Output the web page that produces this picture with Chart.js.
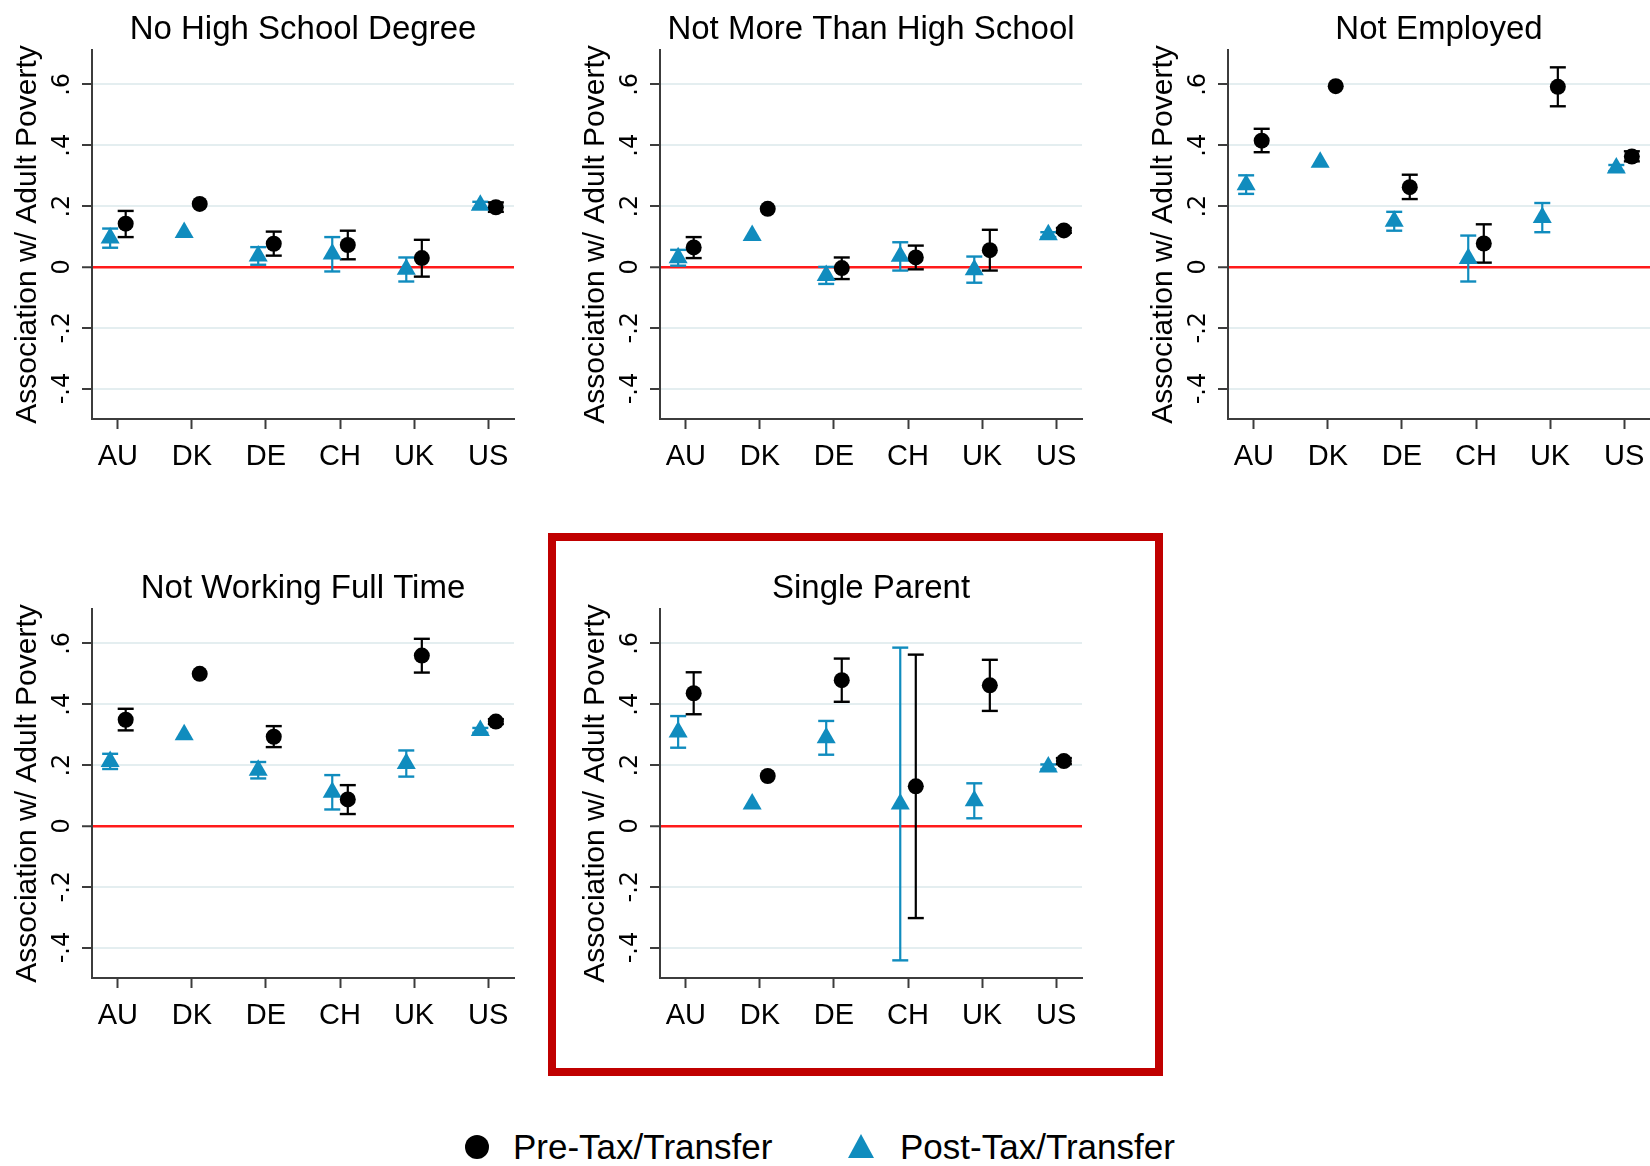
<!DOCTYPE html>
<html>
<head>
<meta charset="utf-8">
<title>Association with Adult Poverty</title>
<script src="https://cdn.jsdelivr.net/npm/chart.js@4.4.1/dist/chart.umd.min.js"></script>
<style>
  html, body { margin: 0; padding: 0; background: #fff; }
  body { width: 1650px; height: 1166px; overflow: hidden; position: relative; font-family: "Liberation Sans", Arial, sans-serif; }
  .panel { position: absolute; width: 568px; height: 500px; }
  .frame { position: absolute; left: 548px; top: 533px; width: 615px; height: 543px; box-sizing: border-box; border: 8px solid #c00000; }
  .lg-circle { position: absolute; left: 465px; top: 1135px; width: 24px; height: 24px; border-radius: 50%; background: #000; }
  .lg-triangle { position: absolute; left: 848px; top: 1134px; width: 0; height: 0;
                 border-left: 13.5px solid transparent; border-right: 13.5px solid transparent; border-bottom: 24px solid #108cbe; }
  .lg-text { position: absolute; font-size: 35px; line-height: 35px; color: #000; white-space: nowrap; top: 1129px; }
</style>
</head>
<body>
<div class="frame"></div>
<div class="panel" style="left:0px;top:0px"><canvas id="p0" width="568" height="500"></canvas></div>
<div class="panel" style="left:568px;top:0px"><canvas id="p1" width="568" height="500"></canvas></div>
<div class="panel" style="left:1136px;top:0px"><canvas id="p2" width="568" height="500"></canvas></div>
<div class="panel" style="left:0px;top:559px"><canvas id="p3" width="568" height="500"></canvas></div>
<div class="panel" style="left:568px;top:559px"><canvas id="p4" width="568" height="500"></canvas></div>
<div class="lg-circle"></div>
<div class="lg-text" id="lg0" style="left:513px"></div>
<div class="lg-triangle"></div>
<div class="lg-text" id="lg1" style="left:900px"></div>
<script>
// Countries on the x axis
const countries = ['AU', 'DK', 'DE', 'CH', 'UK', 'US'];

// Y axis ticks and their labels
const yTickValues = [-0.4, -0.2, 0, 0.2, 0.4, 0.6];
const yTickLabels = ['-.4', '-.2', '0', '.2', '.4', '.6'];
const yTitle = 'Association w/ Adult Poverty';
const seriesNames = ['Pre-Tax/Transfer', 'Post-Tax/Transfer'];

const panelTitles = ['No High School Degree', 'Not More Than High School', 'Not Employed',
                     'Not Working Full Time', 'Single Parent'];

// Point estimates and 95% intervals (null = interval hidden behind the marker)
// No High School Degree
const noHsPre    = [0.142, 0.207, 0.076, 0.072, 0.029, 0.196];
const noHsPreLo  = [0.098, null, 0.037, 0.025, -0.032, 0.181];
const noHsPreHi  = [0.184, null, 0.116, 0.119, 0.089, 0.212];
const noHsPost   = [0.095, 0.113, 0.036, 0.042, -0.008, 0.203];
const noHsPostLo = [0.063, null, 0.007, -0.015, -0.048, 0.192];
const noHsPostHi = [0.126, null, 0.065, 0.098, 0.031, 0.214];

// Not More Than High School
const hsPre    = [0.064, 0.191, -0.004, 0.031, 0.055, 0.120];
const hsPreLo  = [0.029, null, -0.040, -0.008, -0.012, 0.112];
const hsPreHi  = [0.098, null, 0.031, 0.070, 0.122, 0.128];
const hsPost   = [0.030, 0.103, -0.028, 0.035, -0.009, 0.106];
const hsPostLo = [0.004, null, -0.056, -0.012, -0.052, 0.098];
const hsPostHi = [0.056, null, 0.000, 0.081, 0.034, 0.114];

// Not Employed
const nePre    = [0.415, 0.594, 0.262, 0.077, 0.592, 0.363];
const nePreLo  = [0.377, null, 0.223, 0.014, 0.528, 0.347];
const nePreHi  = [0.454, null, 0.303, 0.140, 0.656, 0.380];
const nePost   = [0.270, 0.344, 0.150, 0.028, 0.162, 0.325];
const nePostLo = [0.240, null, 0.119, -0.048, 0.114, 0.315];
const nePostHi = [0.301, null, 0.181, 0.103, 0.210, 0.335];

// Not Working Full Time
const nftPre    = [0.349, 0.500, 0.293, 0.087, 0.560, 0.343];
const nftPreLo  = [0.314, null, 0.259, 0.039, 0.504, 0.335];
const nftPreHi  = [0.385, null, 0.328, 0.134, 0.615, 0.351];
const nftPost   = [0.212, 0.300, 0.183, 0.111, 0.205, 0.314];
const nftPostLo = [0.187, null, 0.156, 0.054, 0.162, 0.306];
const nftPostHi = [0.237, null, 0.210, 0.167, 0.248, 0.322];

// Single Parent
const spPre    = [0.436, 0.164, 0.479, 0.130, 0.462, 0.213];
const spPreLo  = [0.367, null, 0.408, -0.303, 0.378, 0.203];
const spPreHi  = [0.505, null, 0.550, 0.563, 0.546, 0.223];
const spPost   = [0.309, 0.072, 0.290, 0.072, 0.083, 0.194];
const spPostLo = [0.257, null, 0.234, -0.442, 0.025, 0.186];
const spPostHi = [0.361, null, 0.345, 0.586, 0.140, 0.202];

const panels = [
  [noHsPre, noHsPreLo, noHsPreHi, noHsPost, noHsPostLo, noHsPostHi],
  [hsPre, hsPreLo, hsPreHi, hsPost, hsPostLo, hsPostHi],
  [nePre, nePreLo, nePreHi, nePost, nePostLo, nePostHi],
  [nftPre, nftPreLo, nftPreHi, nftPost, nftPostLo, nftPostHi],
  [spPre, spPreLo, spPreHi, spPost, spPostLo, spPostHi]
];

const FONT = '"Liberation Sans", Arial, sans-serif';
const BLACK = '#000000';
const BLUE = '#108cbe';
const AXIS = '#3c3c3c';
const GRID = '#e4eef0';
const ZERO = '#ff1a1a';
const DODGE = 0.105;   // horizontal shift of the two series around each country
const X_MIN = 0.65, X_MAX = 6.35;
const Y_MIN = -0.5, Y_MAX = 0.713;

function intervalSet(x, lo, hi, color) {
  return {
    data: [{ x: x, y: lo }, { x: x, y: hi }],
    showLine: true,
    borderColor: color,
    borderWidth: 2.2,
    pointStyle: 'line',
    pointRadius: 8,
    pointBorderColor: color,
    pointBackgroundColor: color,
    pointBorderWidth: 2.4
  };
}

function buildPanel(canvasId, title, d) {
  const [pre, preLo, preHi, post, postLo, postHi] = d;
  const datasets = [
    {
      label: seriesNames[0],
      data: countries.map((c, i) => ({ x: i + 1 + DODGE, y: pre[i] })),
      pointStyle: 'circle', pointRadius: 8,
      pointBackgroundColor: BLACK, pointBorderColor: BLACK, pointBorderWidth: 0
    },
    {
      label: seriesNames[1],
      data: countries.map((c, i) => ({ x: i + 1 - DODGE, y: post[i] })),
      pointStyle: 'triangle', pointRadius: 11,
      pointBackgroundColor: BLUE, pointBorderColor: BLUE, pointBorderWidth: 0
    }
  ];
  countries.forEach((c, i) => {
    if (preLo[i] !== null) datasets.push(intervalSet(i + 1 + DODGE, preLo[i], preHi[i], BLACK));
  });
  countries.forEach((c, i) => {
    if (postLo[i] !== null) datasets.push(intervalSet(i + 1 - DODGE, postLo[i], postHi[i], BLUE));
  });

  new Chart(document.getElementById(canvasId), {
    type: 'scatter',
    data: { datasets },
    options: {
      responsive: false,
      animation: false,
      events: [],
      layout: { padding: { left: 0, right: 54, top: 0, bottom: 0 } },
      plugins: { legend: { display: false }, tooltip: { enabled: false } },
      scales: {
        x: {
          type: 'linear', position: 'bottom', min: X_MIN, max: X_MAX,
          afterBuildTicks: s => { s.ticks = countries.map((c, i) => ({ value: i + 1 })); },
          afterFit: s => { s.height = 81; },
          grid: { drawOnChartArea: false, drawTicks: true, tickLength: 10, tickWidth: 2, tickColor: AXIS, color: AXIS },
          border: { display: true, color: AXIS, width: 2 },
          ticks: {
            autoSkip: false, minRotation: 0, maxRotation: 0, padding: 11, color: '#000',
            font: { family: FONT, size: 29 },
            callback: v => countries[Math.round(v) - 1]
          }
        },
        head: {
          type: 'linear', axis: 'x', position: 'top', min: X_MIN, max: X_MAX,
          afterFit: s => { s.height = 50; },
          grid: { display: false },
          border: { display: false },
          ticks: { display: false },
          title: { display: true, text: title, color: '#000', font: { family: FONT, size: 33 }, padding: { top: 10, bottom: 0 } }
        },
        y: {
          type: 'linear', position: 'left', min: Y_MIN, max: Y_MAX,
          afterBuildTicks: s => { s.ticks = yTickValues.map(v => ({ value: v })); },
          afterFit: s => { s.width = 92; },
          grid: {
            drawOnChartArea: true, drawTicks: true, tickLength: 10, tickWidth: 2, tickColor: AXIS,
            color: ctx => (ctx.tick && ctx.tick.value === 0) ? ZERO : GRID,
            lineWidth: ctx => (ctx.tick && ctx.tick.value === 0) ? 2.5 : 2
          },
          border: { display: true, color: AXIS, width: 2 },
          ticks: {
            minRotation: 90, maxRotation: 90, crossAlign: 'center', padding: 3, color: '#000',
            font: { family: '"DejaVu Sans", sans-serif', size: 24 },
            callback: v => yTickLabels[yTickValues.indexOf(v)]
          },
          title: { display: true, text: yTitle, color: '#000', font: { family: FONT, size: 30 }, padding: { top: 10, bottom: 0 } }
        }
      }
    }
  });
}

panels.forEach((d, k) => buildPanel('p' + k, panelTitles[k], d));

document.getElementById('lg0').textContent = seriesNames[0];
document.getElementById('lg1').textContent = seriesNames[1];
</script>
</body>
</html>
